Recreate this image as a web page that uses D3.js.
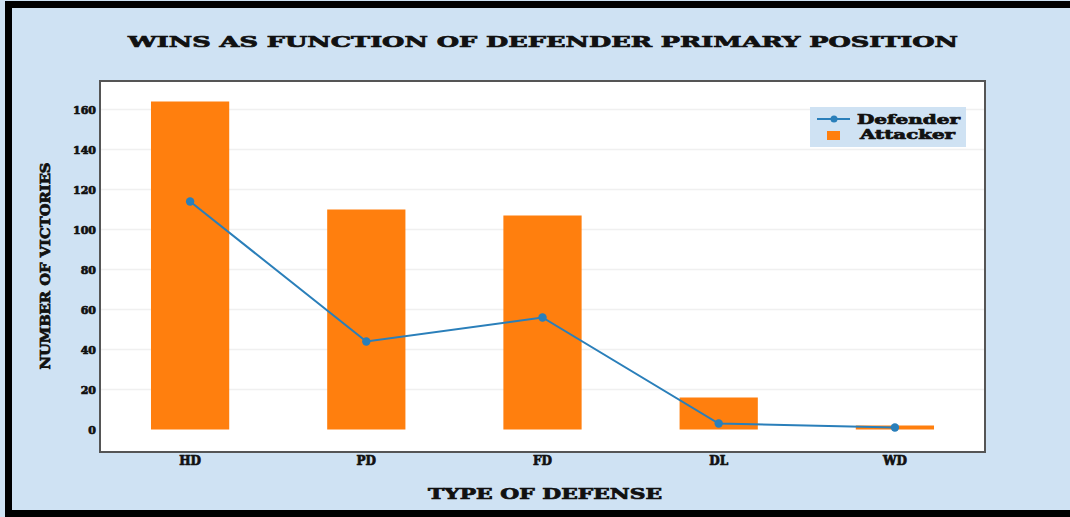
<!DOCTYPE html>
<html><head><meta charset="utf-8">
<script src="https://cdn.jsdelivr.net/npm/d3@7"></script>
<style>
html,body{margin:0;padding:0;background:#fff;}
svg{display:block;}
text{font-family:"DejaVu Serif","Liberation Serif",serif;font-weight:bold;fill:#111;stroke:#111;stroke-width:0.7px;}
</style></head>
<body>
<svg id="c" width="1070" height="517"></svg>
<script>
const categories = ["HD", "PD", "FD", "DL", "WD"];
const attacker = [164, 110, 107, 16, 2];
const defender = [114, 44, 56, 3, 1];
const yTicks = [0, 20, 40, 60, 80, 100, 120, 140, 160];
const titleText = "WINS AS FUNCTION OF DEFENDER PRIMARY POSITION";
const xTitle = "TYPE OF DEFENSE";
const yTitle = "NUMBER OF VICTORIES";
const seriesNames = ["Defender", "Attacker"];

const svg = d3.select("#c");
const W = 1070, H = 517;
svg.append("rect").attr("x",0).attr("y",0).attr("width",W).attr("height",H).attr("fill","#cfe2f3");
svg.append("path").attr("d",`M8.5,${H} L8.5,4.5 L${W},4.5 M8.5,513.5 L${W},513.5`)
  .attr("fill","none").attr("stroke","#000").attr("stroke-width",7);

const pl = 100, pt = 81, pr = 985, pb = 452;
const x = d3.scaleBand().domain(categories).range([102, 983]).paddingInner(0.556).paddingOuter(0.278);
const y = d3.scaleLinear().domain([-11.25, 174.25]).range([pb, pt]);

svg.append("rect").attr("x",pl).attr("y",pt).attr("width",pr-pl).attr("height",pb-pt)
  .attr("fill","#fff").attr("stroke","#555").attr("stroke-width",2);

svg.append("g").selectAll("line").data(yTicks.filter(d=>d>0)).join("line")
  .attr("x1",pl+1).attr("x2",pr-1).attr("y1",d=>y(d)).attr("y2",d=>y(d))
  .attr("stroke","#f0f0f0").attr("stroke-width",1.5);

const yAxis = d3.axisLeft(y).tickValues(yTicks).tickSize(0).tickPadding(0);
const gy = svg.append("g").attr("transform",`translate(96,0)`).call(yAxis);
gy.select(".domain").remove();
gy.selectAll("text").attr("font-size",11).style("font-family","DejaVu Serif").style("font-weight","bold")
  .attr("fill","#111").attr("stroke","#111").attr("stroke-width",0.7).attr("dy","0.35em");

const xAxis = d3.axisBottom(x).tickSize(0).tickPadding(0);
const gx = svg.append("g").attr("transform",`translate(0,456)`).call(xAxis);
gx.select(".domain").remove();
gx.selectAll("text").attr("font-size",12).style("font-family","DejaVu Serif").style("font-weight","bold")
  .attr("fill","#111").attr("stroke","#111").attr("stroke-width",0.7).attr("dy","0.71em");

svg.append("g").selectAll("rect").data(categories).join("rect")
  .attr("x",d=>x(d)).attr("width",x.bandwidth())
  .attr("y",(d,i)=>y(attacker[i])).attr("height",(d,i)=>y(0)-y(attacker[i]))
  .attr("fill","#ff7f0e");

const line = d3.line().x((d,i)=>x(categories[i])+x.bandwidth()/2).y(d=>y(d));
svg.append("path").datum(defender).attr("d",line).attr("fill","none")
  .attr("stroke","#2a7fba").attr("stroke-width",2);
svg.append("g").selectAll("circle").data(defender).join("circle")
  .attr("cx",(d,i)=>x(categories[i])+x.bandwidth()/2).attr("cy",d=>y(d)).attr("r",4.2)
  .attr("fill","#2a7fba");

svg.append("text").attr("x",543).attr("y",47).attr("text-anchor","middle")
  .attr("font-size",15).attr("textLength",830).attr("lengthAdjust","spacingAndGlyphs").text(titleText);
svg.append("text").attr("x",545).attr("y",499).attr("text-anchor","middle")
  .attr("font-size",14).attr("textLength",234).attr("lengthAdjust","spacingAndGlyphs").text(xTitle);
svg.append("text").attr("transform","translate(50,266) rotate(-90)").attr("text-anchor","middle")
  .attr("font-size",13).attr("textLength",207).attr("lengthAdjust","spacingAndGlyphs").text(yTitle);

const lg = svg.append("g");
lg.append("rect").attr("x",810).attr("y",107).attr("width",156).attr("height",40).attr("fill","#cfe2f3");
lg.append("line").attr("x1",817).attr("x2",850).attr("y1",119).attr("y2",119).attr("stroke","#2a7fba").attr("stroke-width",2);
lg.append("circle").attr("cx",834).attr("cy",119).attr("r",3.5).attr("fill","#2a7fba");
lg.append("rect").attr("x",827).attr("y",131).attr("width",13).attr("height",9).attr("fill","#ff7f0e");
lg.append("text").attr("x",857).attr("y",124).attr("font-size",13).attr("textLength",103).attr("lengthAdjust","spacingAndGlyphs").text(seriesNames[0]);
lg.append("text").attr("x",860).attr("y",139).attr("font-size",13).attr("textLength",95).attr("lengthAdjust","spacingAndGlyphs").text(seriesNames[1]);
</script>
</body></html>
